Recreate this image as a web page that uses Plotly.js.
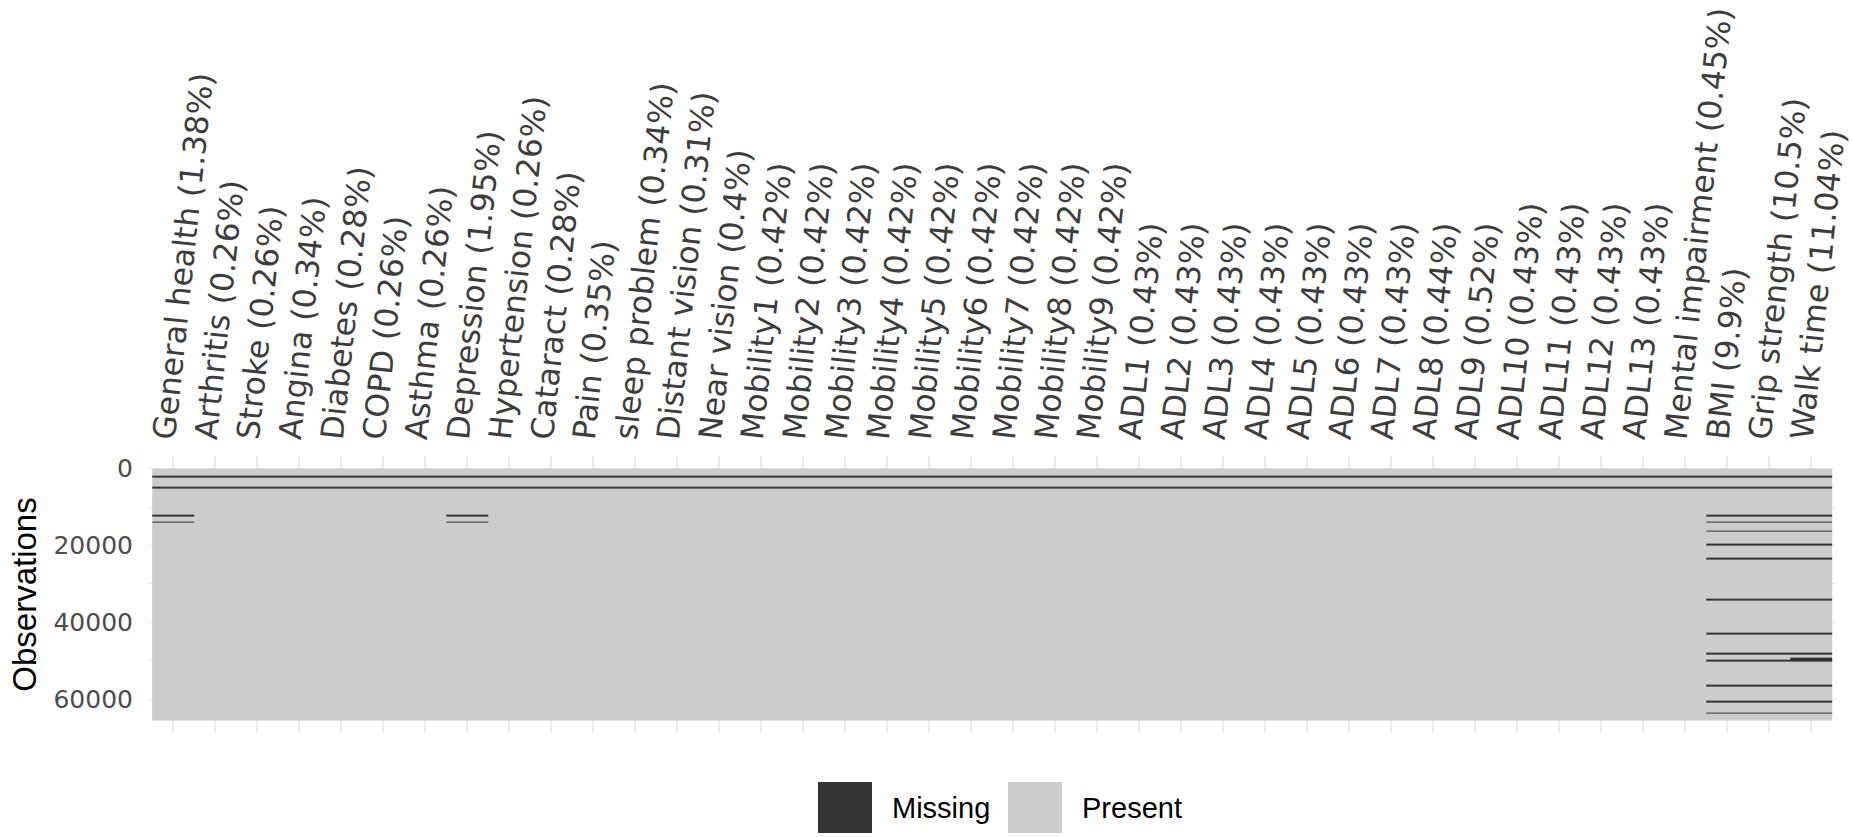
<!DOCTYPE html>
<html>
<head>
<meta charset="utf-8">
<script src="https://cdn.plot.ly/plotly-3.0.1.min.js"></script>
<style>
  html, body { margin: 0; padding: 0; background: #ffffff; }
  #chart { width: 1852px; height: 837px; }
</style>
</head>
<body>
<div id="chart"></div>
<script>
// Variables in the survey data set, in column order
const variables = [
  "General health", "Arthritis", "Stroke", "Angina", "Diabetes", "COPD", "Asthma",
  "Depression", "Hypertension", "Cataract", "Pain", "sleep problem", "Distant vision",
  "Near vision", "Mobility1", "Mobility2", "Mobility3", "Mobility4", "Mobility5",
  "Mobility6", "Mobility7", "Mobility8", "Mobility9", "ADL1", "ADL2", "ADL3", "ADL4",
  "ADL5", "ADL6", "ADL7", "ADL8", "ADL9", "ADL10", "ADL11", "ADL12", "ADL13",
  "Mental impairment", "BMI", "Grip strength", "Walk time"
];

// Share of missing values per variable (%)
const missingPct = [
  1.38, 0.26, 0.26, 0.34, 0.28, 0.26, 0.26,
  1.95, 0.26, 0.28, 0.35, 0.34, 0.31,
  0.4, 0.42, 0.42, 0.42, 0.42, 0.42,
  0.42, 0.42, 0.42, 0.42, 0.43, 0.43, 0.43, 0.43,
  0.43, 0.43, 0.43, 0.44, 0.52, 0.43, 0.43, 0.43, 0.43,
  0.45, 9.9, 10.5, 11.04
];

// Number of observations (rows)
const nObs = 65500;

// Runs of missing rows [first row, last row]
const runsAllVariables = [[1940, 2400], [4810, 5270]];
const runsGeneralHealth = [[11970, 12430], [13700, 14160]];
const runsDepression = [[11970, 12430], [13700, 14160]];
const runsPhysicalMeasures = [
  [11970, 12430], [13700, 14160], [16050, 16510], [19630, 20090],
  [23100, 23560], [33820, 34280], [42620, 43080], [47930, 48390],
  [49680, 50140], [56210, 56670], [60390, 60850], [63340, 63800]
];
const runsWalkTimeOnly = [[49130, 50260]];

const physicalMeasures = ["BMI", "Grip strength", "Walk time"];

// Legend entries
const legendLabels = ["Missing", "Present"];
const legendColors = ["#333333", "#cccccc"];

// ---- build the missingness grid -------------------------------------------
const colRuns = variables.map(v => {
  let r = runsAllVariables.slice();
  if (v === "General health") r = r.concat(runsGeneralHealth);
  if (v === "Depression") r = r.concat(runsDepression);
  if (physicalMeasures.includes(v)) r = r.concat(runsPhysicalMeasures);
  if (v === "Walk time") r = r.concat(runsWalkTimeOnly);
  return r;
});

const edgeSet = new Set([0.5, nObs + 0.5]);
colRuns.forEach(rs => rs.forEach(([a, b]) => { edgeSet.add(a - 0.5); edgeSet.add(b + 0.5); }));
const yEdges = Array.from(edgeSet).sort((a, b) => a - b);

const z = [];
for (let k = 0; k < yEdges.length - 1; k++) {
  const mid = (yEdges[k] + yEdges[k + 1]) / 2;
  z.push(colRuns.map(rs => rs.some(([a, b]) => mid >= a - 0.5 && mid <= b + 0.5) ? 1 : 0));
}
const xEdges = variables.map((_, i) => i - 0.5).concat([variables.length - 0.5]);

const tickLabels = variables.map((v, i) => v + " (" + missingPct[i] + "%)");

const heat = {
  type: "heatmap",
  x: xEdges,
  y: yEdges,
  z: z,
  zmin: 0, zmax: 1,
  colorscale: [[0, legendColors[1]], [1, legendColors[0]]],
  showscale: false,
  hoverinfo: "skip"
};

// ---- layout -----------------------------------------------------------------
const W = 1852, H = 837;
const M = { l: 148, r: 16, t: 456, b: 104 };
const plotW = W - M.l - M.r, plotH = H - M.t - M.b;
const px2x = p => (p - M.l) / plotW;
const px2y = p => (H - M.b - p) / plotH;

const pad = 0.05 * nObs;
const shapes = [], annotations = [];
const keyLeft = [818, 1008];
legendLabels.forEach((lab, i) => {
  shapes.push({
    type: "rect", xref: "paper", yref: "paper",
    x0: px2x(keyLeft[i]), x1: px2x(keyLeft[i] + 54),
    y0: px2y(782), y1: px2y(833),
    fillcolor: legendColors[i], line: { width: 0 }
  });
  annotations.push({
    xref: "paper", yref: "paper",
    x: px2x(keyLeft[i] + 72), y: px2y(808),
    xanchor: "left", yanchor: "middle", showarrow: false,
    text: lab, font: { family: "Liberation Sans, Arial, sans-serif", size: 29, color: "#000000" }
  });
});

const layout = {
  width: W, height: H,
  margin: M,
  paper_bgcolor: "#ffffff",
  plot_bgcolor: "#ffffff",
  showlegend: false,
  xaxis: {
    side: "top",
    range: [-0.6, variables.length - 0.4],
    tickmode: "array",
    tickvals: variables.map((_, i) => i),
    ticktext: tickLabels,
    tickangle: -84,
    ticks: "",
    ticklabeloverflow: "allow",
    ticklabelshift: -14,
    ticklabelstandoff: -6,
    tickfont: { family: "DejaVu Sans, sans-serif", size: 31.5, color: "#3d3d3d" },
    showgrid: true, gridcolor: "#ebebeb", gridwidth: 1.5,
    zeroline: false, showline: false,
    fixedrange: true
  },
  yaxis: {
    range: [nObs + 0.5 + pad, 0.5 - pad],
    tickmode: "linear", tick0: 0, dtick: 20000,
    tickformat: "d",
    ticks: "",
    ticklabelstandoff: 14,
    tickfont: { family: "DejaVu Sans, sans-serif", size: 25, color: "#4d4d4d" },
    showgrid: true, gridcolor: "#ebebeb", gridwidth: 1.5,
    minor: { tick0: 0, dtick: 10000, showgrid: true, gridcolor: "#ebebeb", gridwidth: 1 },
    zeroline: false, showline: false,
    title: { text: "Observations", standoff: 6,
             font: { family: "Liberation Sans, Arial, sans-serif", size: 33, color: "#000000" } },
    fixedrange: true
  },
  shapes: shapes,
  annotations: annotations
};

Plotly.newPlot("chart", [heat], layout, { displayModeBar: false, staticPlot: true });
</script>
</body>
</html>
